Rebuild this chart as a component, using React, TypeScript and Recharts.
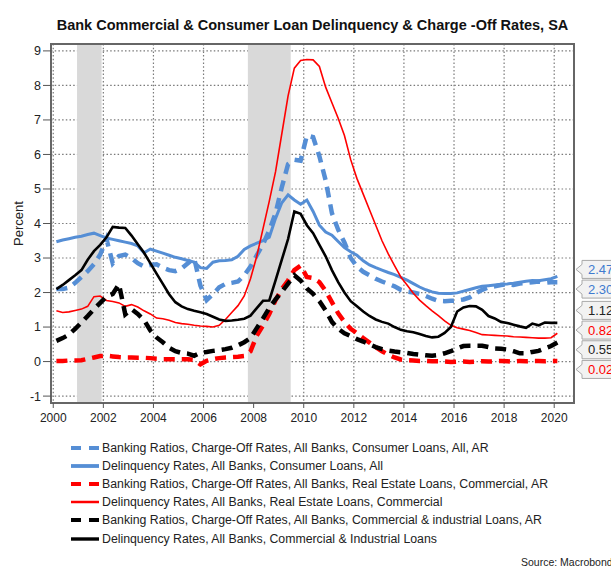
import React from 'react';
import { LineChart, Line, XAxis, YAxis, CartesianGrid, ReferenceArea, ReferenceDot } from 'recharts';

// quarterly observations, plotted mid-quarter
const years = [
  2000.125, 2000.375, 2000.625, 2000.875,
  2001.125, 2001.375, 2001.625, 2001.875,
  2002.125, 2002.375, 2002.625, 2002.875,
  2003.125, 2003.375, 2003.625, 2003.875,
  2004.125, 2004.375, 2004.625, 2004.875,
  2005.125, 2005.375, 2005.625, 2005.875,
  2006.125, 2006.375, 2006.625, 2006.875,
  2007.125, 2007.375, 2007.625, 2007.875,
  2008.125, 2008.375, 2008.625, 2008.875,
  2009.125, 2009.375, 2009.625, 2009.875,
  2010.125, 2010.375, 2010.625, 2010.875,
  2011.125, 2011.375, 2011.625, 2011.875,
  2012.125, 2012.375, 2012.625, 2012.875,
  2013.125, 2013.375, 2013.625, 2013.875,
  2014.125, 2014.375, 2014.625, 2014.875,
  2015.125, 2015.375, 2015.625, 2015.875,
  2016.125, 2016.375, 2016.625, 2016.875,
  2017.125, 2017.375, 2017.625, 2017.875,
  2018.125, 2018.375, 2018.625, 2018.875,
  2019.125, 2019.375, 2019.625, 2019.875,
  2020.125,
];

const consumerChargeOff = [
  2.10, 2.10, 2.14, 2.28,
  2.45, 2.62, 2.82, 3.10,
  3.55, 2.85, 3.06, 3.10,
  3.00, 2.85, 2.75, 2.80,
  2.82, 2.72, 2.65, 2.62,
  2.70, 2.85, 3.00, 2.20,
  1.78, 1.95, 2.15, 2.25,
  2.28, 2.32, 2.50, 2.75,
  3.08, 3.40, 3.80, 4.30,
  5.05, 5.72, 5.85, 5.82,
  6.55, 6.50, 5.95, 5.25,
  4.30, 3.82, 3.45, 3.00,
  2.75, 2.60, 2.50, 2.40,
  2.32, 2.25, 2.18, 2.08,
  2.03, 2.00, 1.96, 1.90,
  1.82, 1.76, 1.75, 1.76,
  1.77, 1.80, 1.86, 1.98,
  2.08, 2.15, 2.18, 2.22,
  2.24, 2.22, 2.26, 2.28,
  2.30, 2.32, 2.28, 2.30,
  2.30,
];

const consumerDelinquency = [
  3.47, 3.52, 3.56, 3.60,
  3.63, 3.68, 3.72, 3.65,
  3.58, 3.54, 3.50, 3.46,
  3.42, 3.35, 3.15, 3.26,
  3.20, 3.14, 3.08, 3.02,
  2.98, 2.93, 2.88, 2.72,
  2.70, 2.88, 2.92, 2.93,
  2.95, 3.05, 3.25, 3.35,
  3.43, 3.50, 3.60, 4.15,
  4.60, 4.83, 4.68, 4.56,
  4.68, 4.35, 3.95, 3.75,
  3.66, 3.48, 3.30, 3.18,
  3.08, 2.92, 2.80, 2.72,
  2.65, 2.58, 2.52, 2.44,
  2.36, 2.26, 2.16, 2.08,
  2.02, 1.98, 1.97, 1.97,
  1.99, 2.04, 2.09, 2.14,
  2.18, 2.20, 2.22, 2.24,
  2.25, 2.27, 2.30, 2.33,
  2.35, 2.34, 2.37, 2.40,
  2.47,
];

const creChargeOff = [
  0.02, 0.02, 0.03, 0.03,
  0.04, 0.08, 0.12, 0.16,
  0.17, 0.15, 0.13, 0.12,
  0.12, 0.11, 0.11, 0.10,
  0.08, 0.07, 0.07, 0.07,
  0.07, 0.07, 0.05, -0.08,
  0.02, 0.07, 0.10, 0.12,
  0.13, 0.14, 0.16, 0.30,
  0.75, 1.05, 1.38, 1.78,
  2.10, 2.35, 2.65, 2.78,
  2.45, 2.42, 2.30, 2.05,
  1.72, 1.40, 1.15, 0.95,
  0.82, 0.68, 0.55, 0.42,
  0.30, 0.20, 0.12, 0.06,
  0.04, 0.03, 0.02, 0.02,
  0.01, 0.01, 0.00, -0.01,
  0.00, 0.00, -0.01, 0.00,
  0.01, 0.00, 0.01, 0.02,
  0.01, 0.00, 0.02, 0.01,
  0.02, 0.02, 0.01, 0.02,
  0.02,
];

const creDelinquency = [
  1.47, 1.42, 1.44, 1.48,
  1.52, 1.60, 1.88, 1.90,
  1.77, 1.74, 1.70, 1.60,
  1.65, 1.58, 1.47, 1.38,
  1.26, 1.24, 1.20, 1.13,
  1.10, 1.08, 1.05, 1.03,
  1.02, 1.00, 1.05, 1.22,
  1.42, 1.62, 1.90, 2.40,
  3.05, 3.85, 4.65, 5.50,
  6.60, 7.70, 8.50, 8.72,
  8.75, 8.74, 8.55, 7.95,
  7.50, 7.05, 6.55, 5.85,
  5.30, 4.85, 4.40, 3.95,
  3.50, 3.12, 2.78, 2.45,
  2.22, 1.98, 1.78, 1.62,
  1.47, 1.33, 1.18, 1.05,
  0.98, 0.94, 0.90, 0.84,
  0.78, 0.77, 0.76, 0.75,
  0.74, 0.72, 0.71, 0.70,
  0.69, 0.68, 0.68, 0.69,
  0.82,
];

const ciChargeOff = [
  0.60, 0.68, 0.78, 0.95,
  1.13, 1.32, 1.52, 1.70,
  1.88, 1.96, 2.24, 1.37,
  1.52, 1.38, 1.20, 0.90,
  0.70, 0.56, 0.40, 0.30,
  0.25, 0.23, 0.17, 0.26,
  0.28, 0.31, 0.33, 0.36,
  0.40, 0.47, 0.56, 0.68,
  0.97, 1.25, 1.55, 1.80,
  2.02, 2.26, 2.50, 2.35,
  2.12, 1.96, 1.75, 1.48,
  1.15, 0.95, 0.82, 0.74,
  0.65, 0.58, 0.50, 0.42,
  0.36, 0.32, 0.29, 0.27,
  0.25, 0.22, 0.20, 0.18,
  0.17, 0.19, 0.24, 0.30,
  0.38, 0.45, 0.46, 0.46,
  0.46, 0.42, 0.38, 0.37,
  0.35, 0.30, 0.24, 0.24,
  0.28, 0.31, 0.38, 0.45,
  0.55,
];

const ciDelinquency = [
  2.10, 2.22, 2.36, 2.50,
  2.65, 2.95, 3.20, 3.38,
  3.60, 3.90, 3.88, 3.87,
  3.65, 3.40, 3.15, 2.85,
  2.55, 2.25, 1.95, 1.72,
  1.60, 1.52, 1.47, 1.43,
  1.38, 1.30, 1.22, 1.18,
  1.19, 1.21, 1.24, 1.33,
  1.55, 1.76, 1.77, 2.35,
  2.95, 3.55, 4.35, 4.28,
  3.95, 3.72, 3.38, 3.05,
  2.65, 2.30, 2.00, 1.75,
  1.60, 1.45, 1.32, 1.22,
  1.15, 1.10, 1.00, 0.92,
  0.88, 0.85, 0.80, 0.74,
  0.70, 0.72, 0.83, 1.00,
  1.45, 1.57, 1.61, 1.60,
  1.50, 1.32, 1.25, 1.15,
  1.12, 1.07, 1.02, 0.98,
  1.10, 1.05, 1.13, 1.12,
  1.12,
];

const xTicks = [2000, 2002, 2004, 2006, 2008, 2010, 2012, 2014, 2016, 2018, 2020];
const yTicks = [-1, 0, 1, 2, 3, 4, 5, 6, 7, 8, 9];
const recessions = [
  [2000.95, 2001.93],
  [2007.77, 2009.48],
];

const X_MIN = 1999.91;
const X_MAX = 2020.79;
const Y_MIN = -1.2;
const Y_MAX = 9.2;
const LABEL_GAP = 0.57; // spacing of end-value callouts, in axis units

const BLUE = '#558ed5';
const RED = '#ff0000';
const BLACK = '#000000';
const FONT = '"Liberation Sans", Arial, sans-serif';

const series = [
  { key: 'consumerChargeOff', name: 'Banking Ratios, Charge-Off Rates, All Banks, Consumer Loans, All, AR', values: consumerChargeOff, color: BLUE, width: 4.5, dash: '11 7', text: '#3f7bd0' },
  { key: 'consumerDelinquency', name: 'Delinquency Rates, All Banks, Consumer Loans, All', values: consumerDelinquency, color: BLUE, width: 3, dash: undefined, text: '#3f7bd0' },
  { key: 'creChargeOff', name: 'Banking Ratios, Charge-Off Rates, All Banks, Real Estate Loans, Commercial, AR', values: creChargeOff, color: RED, width: 4.5, dash: '11 7', text: RED },
  { key: 'creDelinquency', name: 'Delinquency Rates, All Banks, Real Estate Loans, Commercial', values: creDelinquency, color: RED, width: 1.6, dash: undefined, text: RED },
  { key: 'ciChargeOff', name: 'Banking Ratios, Charge-Off Rates, All Banks, Commercial & industrial Loans, AR', values: ciChargeOff, color: BLACK, width: 4.5, dash: '11 7', text: '#222' },
  { key: 'ciDelinquency', name: 'Delinquency Rates, All Banks, Commercial & Industrial Loans', values: ciDelinquency, color: BLACK, width: 2.6, dash: undefined, text: '#222' },
];

const rows = years.map((year, i) => {
  const r: Record<string, number> = { year };
  series.forEach((s) => {
    r[s.key] = s.values[i];
  });
  return r;
});

// push overlapping end labels apart, keeping each cluster centred on its values
function spreadLabels(values: number[], gap: number) {
  const order = values.map((v, i) => ({ v, i })).sort((a, b) => b.v - a.v);
  const clusters = order.map((o) => ({ members: [o], center: o.v }));
  let merged = true;
  while (merged) {
    merged = false;
    for (let k = 0; k < clusters.length - 1; k++) {
      const a = clusters[k];
      const b = clusters[k + 1];
      const aBottom = a.center - ((a.members.length - 1) / 2) * gap;
      const bTop = b.center + ((b.members.length - 1) / 2) * gap;
      if (aBottom - bTop < gap) {
        const members = [...a.members, ...b.members];
        const center = members.reduce((s, m) => s + m.v, 0) / members.length;
        clusters.splice(k, 2, { members, center });
        merged = true;
        break;
      }
    }
  }
  const out: number[] = new Array(values.length);
  clusters.forEach((c) =>
    c.members.forEach((m, j) => {
      out[m.i] = c.center + ((c.members.length - 1) / 2 - j) * gap;
    })
  );
  return out;
}

const lastValues = series.map((s) => s.values[s.values.length - 1]);
const labelPos = spreadLabels(lastValues, LABEL_GAP);

const Callout = (props: any) => {
  const { cx, cy, label, color } = props;
  const x = cx + 2;
  const d = `M${x},${cy} L${x + 6},${cy - 5} L${x + 6},${cy - 9} L${x + 70},${cy - 9} L${x + 70},${cy + 9} L${x + 6},${cy + 9} L${x + 6},${cy + 5} Z`;
  return (
    <g>
      <path d={d} fill="#f2f2f2" stroke="#a8a8a8" strokeWidth={1} />
      <text x={x + 12} y={cy} dy="0.36em" fill={color} fontSize={13} fontFamily={FONT}>
        {label}
      </text>
    </g>
  );
};

const PercentLabel = (props: any) => {
  const { x, y, height } = props.viewBox;
  const cx = x + 18;
  const cy = y + height / 2;
  return (
    <text transform={`translate(${cx},${cy}) rotate(-90)`} textAnchor="middle" dy="0.36em" fontSize={13} fill="#222" fontFamily={FONT}>
      Percent
    </text>
  );
};

export default function App() {
  return (
    <div style={{ position: 'absolute', left: 0, top: 0, width: 611, height: 567, overflow: 'hidden', background: '#fff', fontFamily: FONT }}>
      <div style={{ position: 'absolute', top: 17, left: 51, width: 523, textAlign: 'center', fontWeight: 'bold', fontSize: 14.5, color: '#111', whiteSpace: 'nowrap' }}>
        Bank Commercial &amp; Consumer Loan Delinquency &amp; Charge -Off Rates, SA
      </div>
      <LineChart width={611} height={567} data={rows} margin={{ top: 44, right: 37, bottom: 134, left: 0 }}>
        {recessions.map(([a, b], i) => (
          <ReferenceArea key={i} x1={a} x2={b} y1={Y_MIN} y2={Y_MAX} fill="#d9d9d9" fillOpacity={1} stroke="none" />
        ))}
        <CartesianGrid stroke="#7a7a7a" strokeDasharray="1.5 2.2" strokeWidth={1.2} />
        <XAxis
          dataKey="year"
          type="number"
          domain={[X_MIN, X_MAX]}
          ticks={xTicks}
          allowDataOverflow
          height={30}
          axisLine={false}
          tickLine={{ stroke: '#555' }}
          tickSize={5}
          tickMargin={5}
          tick={{ fontSize: 12, fill: '#222', fontFamily: FONT }}
        />
        <YAxis
          type="number"
          domain={[Y_MIN, Y_MAX]}
          ticks={yTicks}
          allowDataOverflow
          width={51}
          axisLine={false}
          tickLine={{ stroke: '#555' }}
          tickSize={8}
          tickMargin={2}
          tick={{ fontSize: 12.5, fill: '#222', fontFamily: FONT }}
          label={<PercentLabel />}
        />
        {series.map((s) => (
          <Line
            key={s.key}
            dataKey={s.key}
            name={s.name}
            type="linear"
            stroke={s.color}
            strokeWidth={s.width}
            strokeDasharray={s.dash}
            dot={false}
            activeDot={false}
            isAnimationActive={false}
          />
        ))}
        <ReferenceArea x1={X_MIN} x2={X_MAX} y1={Y_MIN} y2={Y_MAX} fill="none" stroke="#666" strokeWidth={2} />
        {series.map((s, i) => (
          <ReferenceDot
            key={'lbl' + s.key}
            x={X_MAX}
            y={labelPos[i]}
            ifOverflow="visible"
            shape={(p: any) => <Callout {...p} label={lastValues[i].toFixed(2)} color={s.text} />}
          />
        ))}
      </LineChart>
      <div style={{ position: 'absolute', top: 439, left: 71 }}>
        {series.map((s) => (
          <div key={s.key} style={{ display: 'flex', alignItems: 'center', height: 18.1, fontSize: 12.3, color: '#222', whiteSpace: 'nowrap' }}>
            <svg width={31} height={10} style={{ flex: 'none' }}>
              <line x1={0} y1={5} x2={28} y2={5} stroke={s.color} strokeWidth={s.dash ? 4 : Math.max(s.width + 0.8, 2.5)} strokeDasharray={s.dash ? '10 8' : undefined} />
            </svg>
            <span>{s.name}</span>
          </div>
        ))}
      </div>
      <div style={{ position: 'absolute', top: 556, left: 521, fontSize: 10.5, color: '#222', whiteSpace: 'nowrap' }}>
        Source: Macrobond
      </div>
    </div>
  );
}
